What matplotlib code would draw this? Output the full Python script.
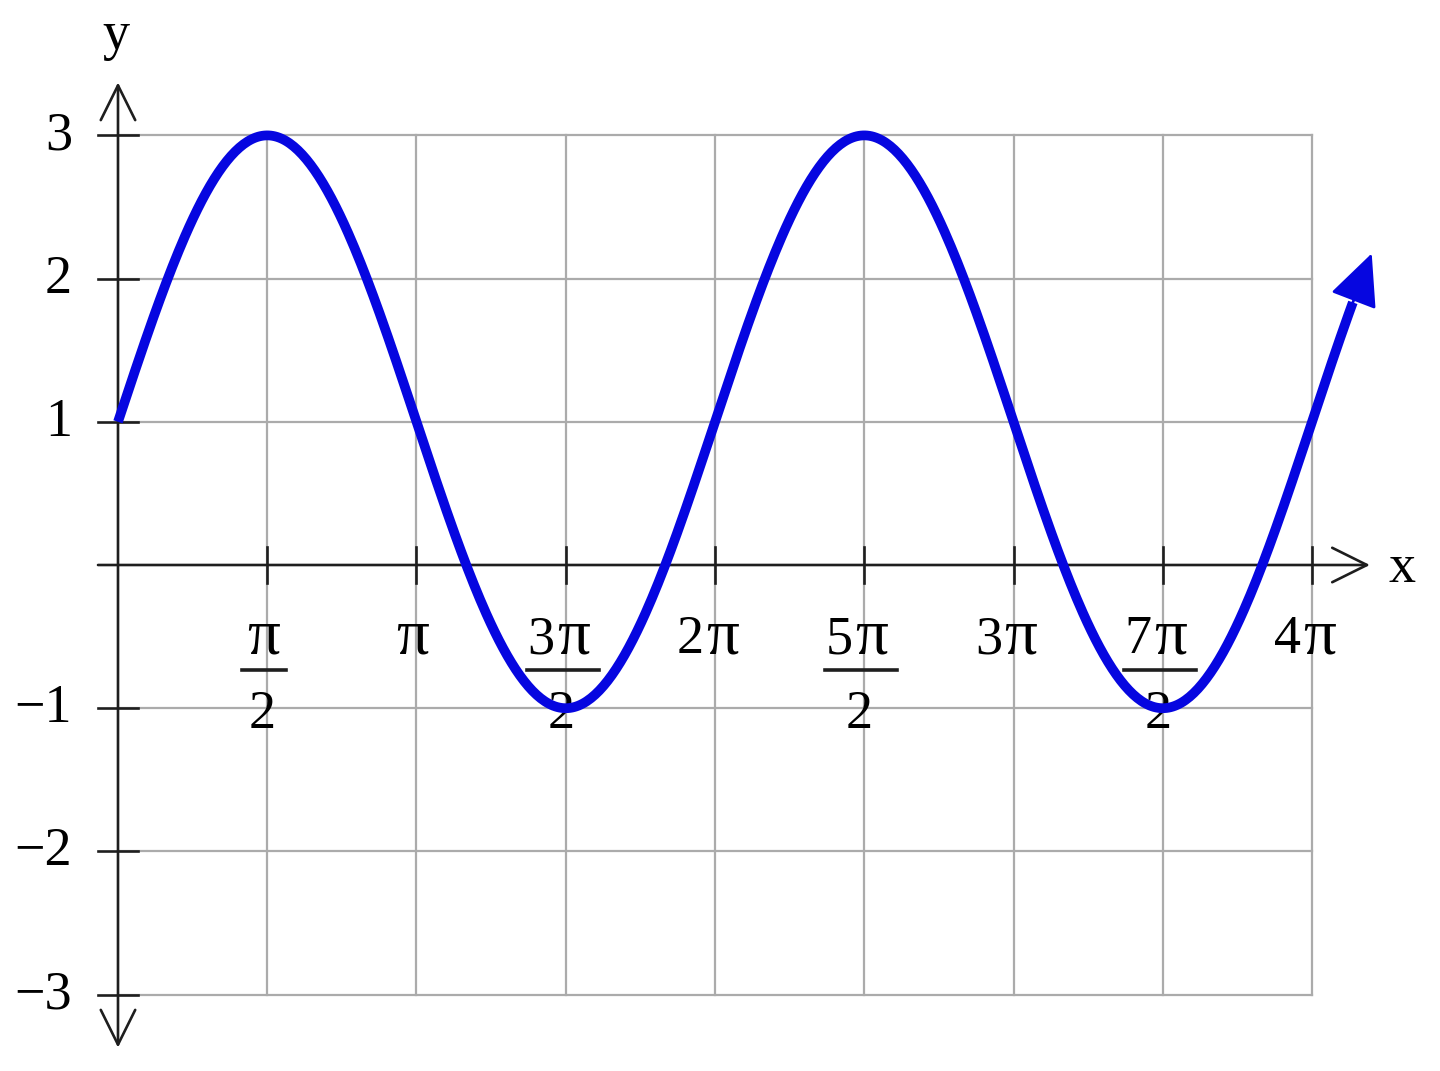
import numpy as np
import matplotlib
matplotlib.use("Agg")
import matplotlib.pyplot as plt

# curve: y = midline + amp * sin(x), drawn from 0 to 4.2*pi
amp = 2
midline = 1
x_end_pi = 4.2

# tick positions (in multiples of pi) and their labels
x_ticks_pi = [0.5, 1, 1.5, 2, 2.5, 3, 3.5, 4]
x_numer = ['', '', '3', '2', '5', '3', '7', '4']   # digit before the pi sign
x_denom = ['2', None, '2', None, '2', None, '2', None]
y_ticks = [-3, -2, -1, 1, 2, 3]
y_labels = ['−3', '−2', '−1', '1', '2', '3']

PI = np.pi
blue = '#0606e0'
grid_c = '#ababab'
ink = '#1e1e1e'
fs = 39
fs_pi = 47
plt.rcParams['font.family'] = ['Liberation Serif', 'DejaVu Serif']

fig = plt.figure(figsize=(14.4, 10.71), dpi=100, facecolor='white')
ax = fig.add_axes([0, 0, 1, 1])
ax.set_xlim(-0.3953 * PI, 4.4288 * PI)
ax.set_ylim(-3.5335, 3.9455)
ax.axis('off')
px = PI / 298.5  # one pixel along x, in data units

# grid
for t in x_ticks_pi:
    ax.plot([t * PI, t * PI], [-3, 3], color=grid_c, lw=1.6, zorder=1)
for v in y_ticks:
    ax.plot([0, 4 * PI], [v, v], color=grid_c, lw=1.6, zorder=1)

# axes with open arrow heads
arr = dict(arrowstyle='->,head_length=1.25,head_width=0.62', color=ink,
           lw=1.9, mutation_scale=20, shrinkA=0, shrinkB=0)
ax.annotate('', xy=(4.194 * PI, 0), xytext=(-0.067 * PI, 0), arrowprops=arr, zorder=2)
ax.annotate('', xy=(0, 3.37), xytext=(0, 0), arrowprops=arr, zorder=2)
ax.annotate('', xy=(0, -3.37), xytext=(0, 0), arrowprops=arr, zorder=2)

# tick marks
for t in x_ticks_pi:
    ax.plot([t * PI, t * PI], [-0.125, 0.125], color=ink, lw=1.9, zorder=2)
for v in y_ticks:
    ax.plot([-0.067 * PI, 0.067 * PI], [v, v], color=ink, lw=1.9, zorder=2)

# tick labels
for v, lab in zip(y_ticks, y_labels):
    ax.text(-0.154 * PI, v - 0.098, lab, ha='right', va='baseline', fontsize=fs, zorder=2)

base = -0.615
for t, num, den in zip(x_ticks_pi, x_numer, x_denom):
    xc = t * PI
    if num:
        ax.text(xc - 11 * px, base, num, ha='right', va='baseline', fontsize=fs, zorder=2)
        ax.text(xc - 9 * px, base, 'π', ha='left', va='baseline', fontsize=fs_pi, zorder=2)
    else:
        ax.text(xc - 4 * px, base, 'π', ha='center', va='baseline', fontsize=fs_pi, zorder=2)
    if den is not None:
        half = 22 * px if not num else 36 * px
        ax.plot([xc - 3 * px - half, xc - 3 * px + half], [-0.733, -0.733],
                color=ink, lw=2.6, zorder=2)
        ax.text(xc - 5 * px, -1.138, den, ha='center', va='baseline', fontsize=fs, zorder=2)

ax.text(-0.006 * PI, 3.60, 'y', ha='center', va='baseline', fontsize=fs)
ax.text(4.30 * PI, -0.119, 'x', ha='center', va='baseline', fontsize=fs)

# the curve
x = np.linspace(0, x_end_pi * PI, 600)
y = midline + amp * np.sin(x)
stop = x <= (x_end_pi - 0.06) * PI
ax.plot(x[stop], y[stop], color=blue, lw=7, solid_capstyle='butt', zorder=3)
ax.annotate('', xy=(x[-1], y[-1]), xytext=(x[stop][-1], y[stop][-1]),
            arrowprops=dict(arrowstyle='-|>,head_length=1.5,head_width=0.7',
                            color=blue, lw=2, mutation_scale=22, shrinkA=0, shrinkB=0),
            zorder=3)

fig.savefig('out.png', dpi=100, facecolor='white')
